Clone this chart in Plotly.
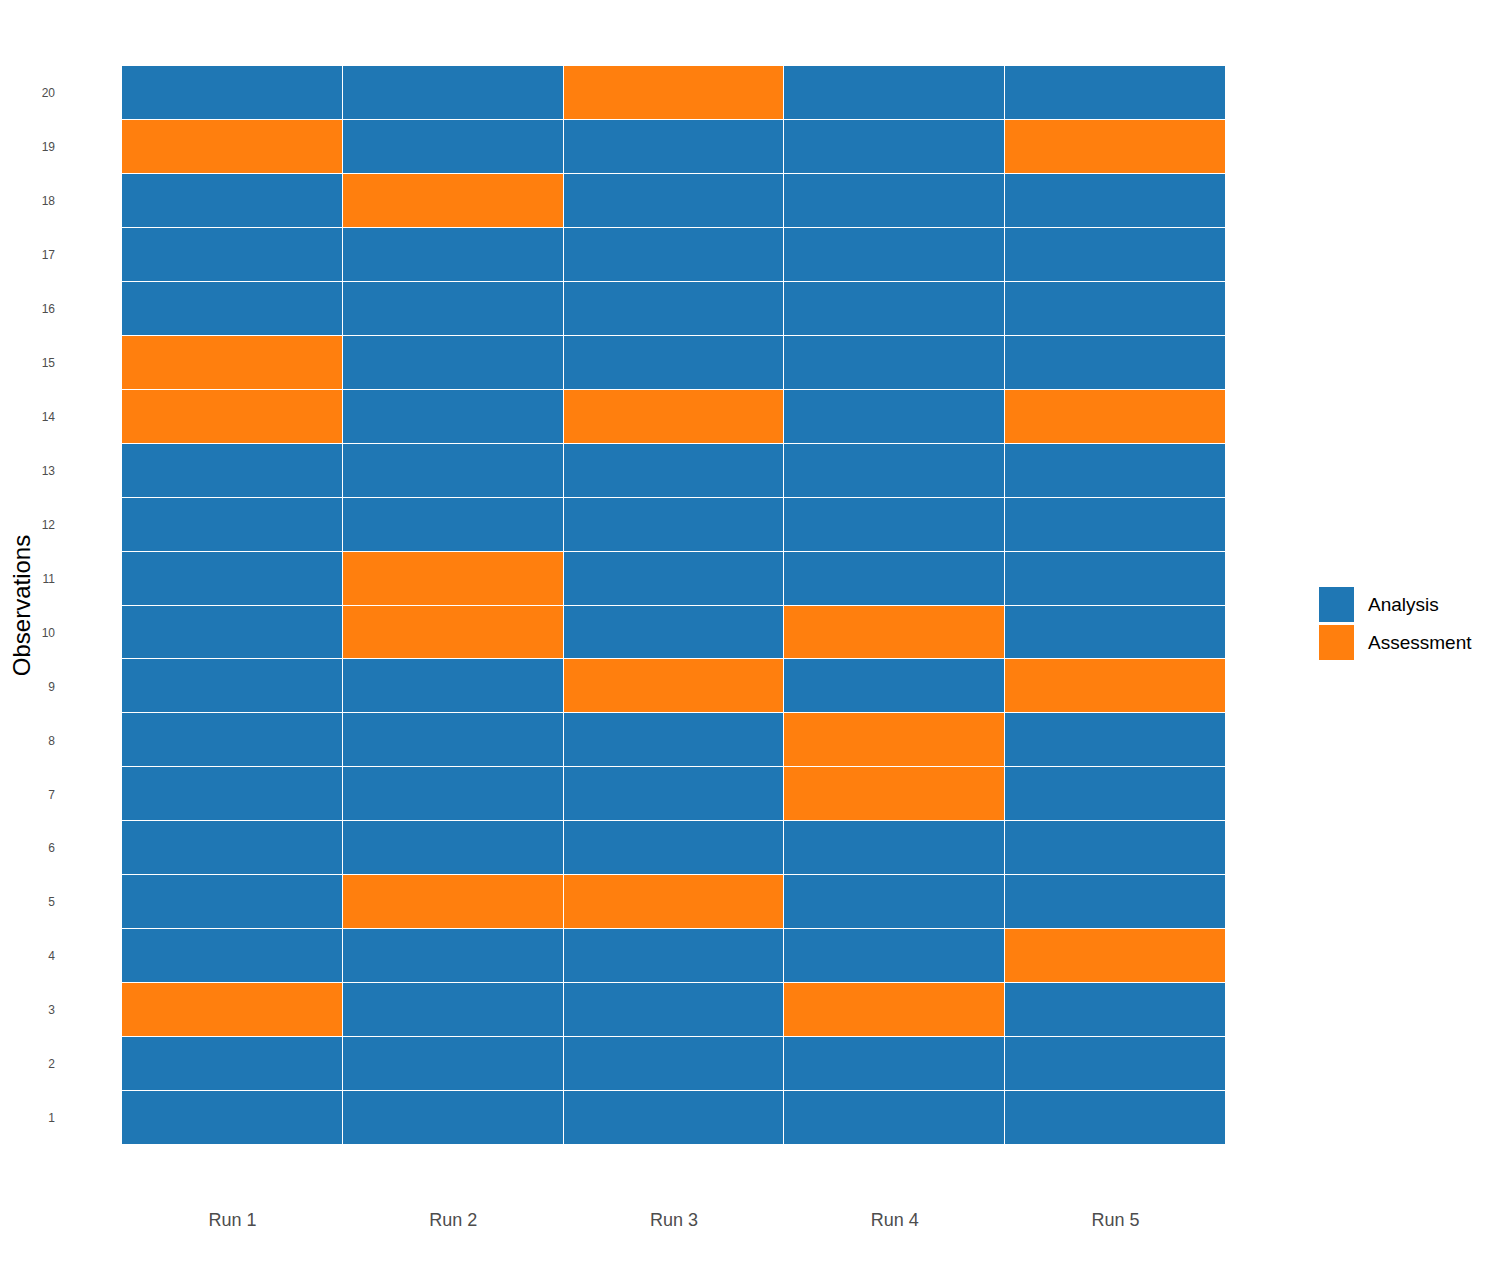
import plotly.graph_objects as go

# Data
runs = ['Run 1', 'Run 2', 'Run 3', 'Run 4', 'Run 5']
observations = list(range(1, 21))
categories = ['Analysis', 'Assessment']
colors = ['#1f77b4', '#ff7f0e']

# Observations held out for assessment in each run
assess_run1 = [3, 14, 15, 19]
assess_run2 = [5, 10, 11, 18]
assess_run3 = [5, 9, 14, 20]
assess_run4 = [3, 7, 8, 10]
assess_run5 = [4, 9, 14, 19]
assessment = [assess_run1, assess_run2, assess_run3, assess_run4, assess_run5]

# z[obs][run] = 1 when the observation is in the assessment set
z = [[1 if obs in assessment[j] else 0 for j in range(len(runs))] for obs in observations]
labels = [[categories[v] for v in row] for row in z]

fig = go.Figure()
fig.add_trace(go.Heatmap(
    x=runs, y=observations, z=z, text=labels,
    colorscale=[[0, colors[0]], [0.5, colors[0]], [0.5, colors[1]], [1, colors[1]]],
    zmin=0, zmax=1, showscale=False, xgap=1, ygap=1,
    hovertemplate='%{x}<br>Observation %{y}<br>%{text}<extra></extra>',
))

# legend drawn by hand to get the large square keys
shapes, annotations = [], []
for i, (name, col) in enumerate(zip(categories, colors)):
    y_top = 1 - (587 - 66 + i * 38) / 1079
    y_bot = y_top - 35 / 1079
    shapes.append(dict(type='rect', xref='paper', yref='paper',
                       x0=1 + 93 / 1104, x1=1 + 128 / 1104, y0=y_bot, y1=y_top,
                       fillcolor=col, line=dict(width=0)))
    annotations.append(dict(text=name, xref='paper', yref='paper',
                            x=1 + 140 / 1104, y=(y_top + y_bot) / 2,
                            xanchor='left', yanchor='middle', showarrow=False,
                            font=dict(size=19, color='black')))

fig.update_layout(
    width=1498, height=1270,
    margin=dict(l=114, r=280, t=58, b=133),
    plot_bgcolor='white', paper_bgcolor='white',
    font=dict(family='Liberation Sans, Arial, sans-serif'),
    showlegend=False,
    shapes=shapes, annotations=annotations,
    xaxis=dict(showgrid=False, zeroline=False, ticks='', ticklabelstandoff=62,
               automargin=False, tickfont=dict(size=18, color='#4d4d4d')),
    yaxis=dict(title=dict(text='Observations', font=dict(size=24, color='black'), standoff=10),
               tickvals=observations, showgrid=False, zeroline=False, ticks='',
               automargin=False, ticklabelstandoff=66,
               tickfont=dict(size=12, color='#4d4d4d'), range=[0.5, 20.5]),
)

fig.write_html('out.html')
